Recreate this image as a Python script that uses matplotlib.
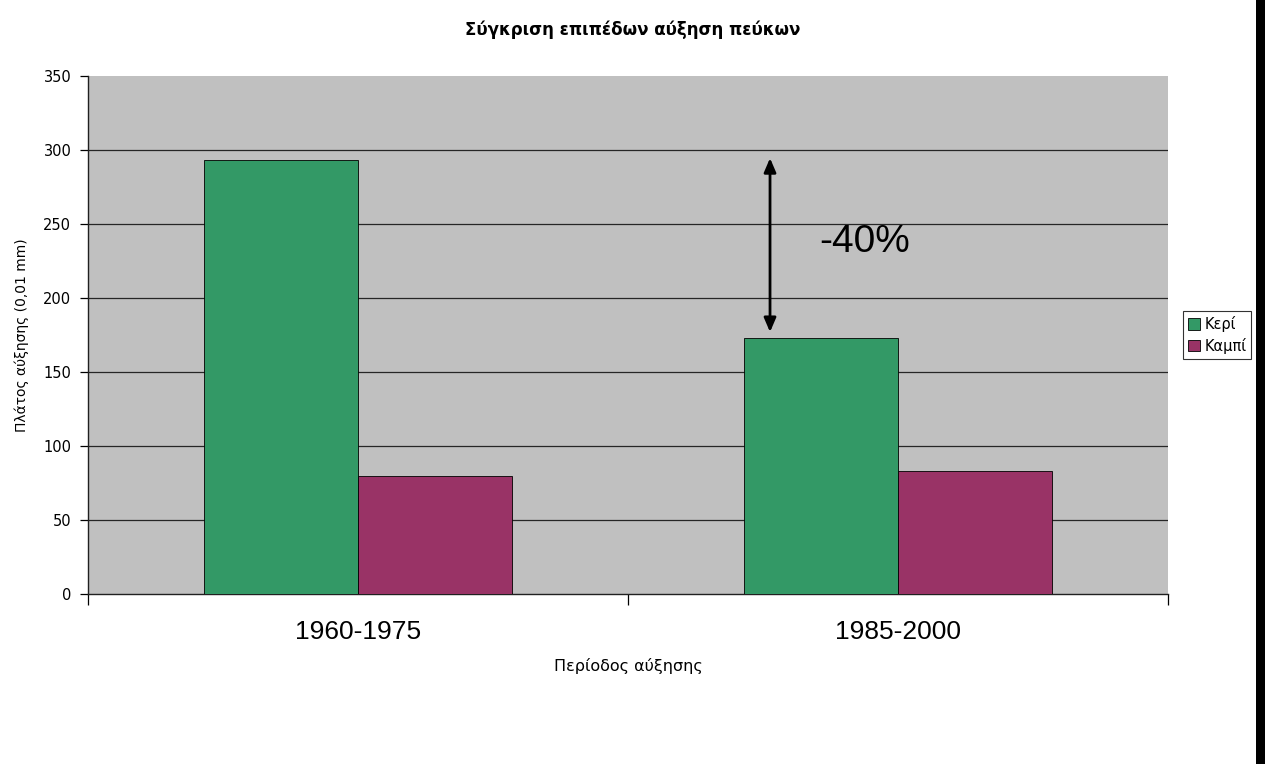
import matplotlib
matplotlib.use("Agg")
import matplotlib.pyplot as plt
from matplotlib.patches import Rectangle
import numpy as np

plt.rcParams['font.family'] = ['DejaVu Sans']

categories = ["1960-1975", "1985-2000"]
series_names = ["Κερί", "Καμπί"]
keri = [293, 173]
kampi = [80, 83]
colors = ["#339966", "#993366"]
title = "Σύγκριση επιπέδων αύξηση πεύκων"
xlabel = "Περίοδος αύξησης"
ylabel = "Πλάτος αύξησης (0,01 mm)"
annotation = "-40%"

fig = plt.figure(figsize=(12.65, 7.64), dpi=100)
ax = fig.add_axes([88/1265, 1-594/764, 1080/1265, 518/764])
ax.set_facecolor("#C0C0C0")

x = np.arange(len(categories))
w = 0.285
ax.bar(x - w/2, keri, w, color=colors[0], edgecolor="black", linewidth=0.6, label=series_names[0], zorder=3)
ax.bar(x + w/2, kampi, w, color=colors[1], edgecolor="black", linewidth=0.6, label=series_names[1], zorder=3)

ax.set_ylim(0, 350)
ax.set_xlim(-0.5, len(categories) - 0.5)
ax.set_yticks(np.arange(0, 351, 50))
for yv in np.arange(50, 350, 50):
    ax.axhline(yv, color="#262626", linewidth=0.9, zorder=1)
ax.tick_params(axis='y', direction='out', length=6, width=0.9, labelsize=10.5, pad=6)

ax.set_xticks(x)
ax.set_xticklabels(categories, fontsize=19, family='Liberation Sans')
ax.set_xticks(np.arange(-0.5, len(categories), 1.0), minor=True)
ax.tick_params(axis='x', which='major', length=0, pad=19)
ax.tick_params(axis='x', which='minor', length=8, width=0.9, direction='out')

for s in ['top', 'right']:
    ax.spines[s].set_visible(False)
for s in ['left', 'bottom']:
    ax.spines[s].set_color("#202020")
    ax.spines[s].set_linewidth(1.0)

ax.set_xlabel(xlabel, fontsize=11.5, labelpad=10)
ax.set_ylabel(ylabel, fontsize=10, labelpad=10)
fig.text(0.5, 1 - 30/764, title, ha='center', va='center', fontsize=12, fontweight='bold')

# annotation arrow showing drop
ax.annotate("", xy=(0.763, 294.5), xytext=(0.763, 177),
            arrowprops=dict(arrowstyle="<|-|>,head_length=0.7,head_width=0.3", color="black",
                            lw=2, mutation_scale=12, shrinkA=0, shrinkB=0),
            zorder=5)
ax.text(0.855, 238, annotation, fontsize=28, va='center', ha='left', zorder=5,
        family='Liberation Sans')

leg = ax.legend(loc='center left', bbox_to_anchor=(1095/1080, 0.5),
                frameon=True, fancybox=False, edgecolor="black", fontsize=10.5,
                handlelength=0.8, handleheight=0.8, handletextpad=0.3,
                borderpad=0.35, labelspacing=0.4, borderaxespad=0)
leg.get_frame().set_linewidth(0.8)

# black bar at right edge
fig.patches.append(Rectangle((1256/1265, 0), 9/1265, 1, transform=fig.transFigure,
                             facecolor="black", edgecolor="none"))

fig.savefig("out.png", dpi=100)
